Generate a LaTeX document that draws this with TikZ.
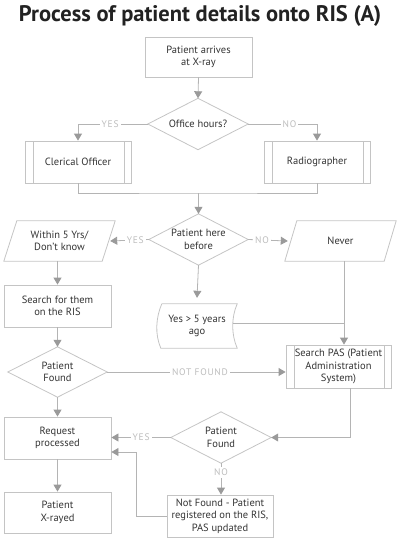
\documentclass[tikz,border=0pt]{standalone}
\usepackage{fontspec}
\setmainfont{PT Sans}
\usetikzlibrary{arrows.meta,calc}
\definecolor{bdc}{HTML}{C4C4C4}
\definecolor{lnc}{HTML}{B4B4B4}
\definecolor{tipc}{HTML}{9A9A9A}
\definecolor{txc}{HTML}{333333}
\definecolor{lbc}{HTML}{BDBDBD}
\definecolor{ttc}{HTML}{222222}
\begin{document}
\begin{tikzpicture}[x=1pt,y=-1pt,
  txt/.style={align=center, text=txc, font=\fontsize{10.5}{12.5}\selectfont, inner sep=0pt},
  box/.style={txt, draw=bdc, line width=0.8pt},
  proc/.style={box, path picture={
      \draw[bdc, line width=0.8pt] ([xshift=8pt]path picture bounding box.north west) -- ([xshift=8pt]path picture bounding box.south west);
      \draw[bdc, line width=0.8pt] ([xshift=-7pt]path picture bounding box.north east) -- ([xshift=-7pt]path picture bounding box.south east);}},
  shp/.style={txt},
  bd/.style={draw=bdc, line width=0.8pt},
  ln/.style={draw=lnc, line width=0.8pt},
  arr/.style={ln, -{Triangle[width=8pt,length=7pt,fill=tipc,color=tipc]}},
  lab/.style={font=\fontsize{9.5}{11}\selectfont\addfontfeature{LetterSpace=8}, text=lbc, fill=white, inner sep=2pt}
]
\useasboundingbox (0,0) rectangle (400,539);
\node[font=\fontsize{22.5}{26}\selectfont\bfseries, text=ttc] (title) at (200,16) {Process of patient details onto RIS (A)};

\node[box, minimum width=107, minimum height=40] (arrive) at (198.5,57) {Patient arrives\\at X-ray};
\node[shp, minimum width=100, minimum height=51] (office) at (198,124) {Office hours?};
\draw[bd] (office.north) -- (office.east) -- (office.south) -- (office.west) -- cycle;
\node[proc, minimum width=106, minimum height=42] (clerk) at (78,162) {Clerical Officer};
\node[proc, minimum width=106, minimum height=42] (radio) at (317,162) {Radiographer};
\node[shp, minimum width=99, minimum height=51] (here) at (198.5,239.5) {Patient here\\before};
\draw[bd] (here.north) -- (here.east) -- (here.south) -- (here.west) -- cycle;
\node[shp, minimum width=111, minimum height=40] (within) at (59.5,241) {Within 5 Yrs/\\Don't know};
\draw[bd] ($(within.north west)+(13,0)$) -- (within.north east) -- ($(within.south east)+(-13,0)$) -- (within.south west) -- cycle;
\node[shp, minimum width=111, minimum height=40] (never) at (340.5,241) {Never};
\draw[bd] ($(never.north west)+(12,0)$) -- (never.north east) -- ($(never.south east)+(-12,0)$) -- (never.south west) -- cycle;
\node[box, minimum width=107, minimum height=42] (ris) at (57.5,306) {Search for them\\on the RIS};
\node[shp, minimum width=80, minimum height=44] (yes5) at (197,326) {Yes > 5 years\\ago};
\draw[bd] ($(yes5.north west)+(5,0)$) -- (yes5.north east) .. controls +(-6,14) and +(-6,-14) .. (yes5.south east) -- ($(yes5.south west)+(4,0)$) .. controls +(-6,-14) and +(-6,14) .. ($(yes5.north west)+(5,0)$);
\node[proc, minimum width=105, minimum height=43] (pas) at (338.5,366.5) {Search PAS (Patient\\Administration\\System)};
\node[shp, minimum width=99, minimum height=50] (pf1) at (57.5,372) {Patient\\Found};
\draw[bd] (pf1.north) -- (pf1.east) -- (pf1.south) -- (pf1.west) -- cycle;
\node[box, minimum width=107, minimum height=42] (req) at (57.5,438) {Request\\processed};
\node[shp, minimum width=100, minimum height=51] (pf2) at (221,437.5) {Patient\\Found};
\draw[bd] (pf2.north) -- (pf2.east) -- (pf2.south) -- (pf2.west) -- cycle;
\node[box, minimum width=107, minimum height=41] (xray) at (57.5,512.5) {Patient\\X-rayed};
\node[box, minimum width=106, minimum height=42] (nf) at (220,516) {Not Found - Patient\\registered on the RIS,\\PAS updated};

% connectors
\draw[arr] (arrive.south) -- (office.north);
\draw[arr] (office.west) -| node[lab, pos=0.27]{YES} (clerk.north);
\draw[arr] (office.east) -| node[lab, pos=0.3]{NO} (radio.north);
\coordinate (join) at (198.5,193);
\draw[ln] (clerk.south) |- (join) -| (radio.south);
\draw[arr] (join) -- (here.north);
\draw[arr] (here.west) -- node[lab, pos=0.35]{YES} ([xshift=-5pt]within.east);
\draw[arr] (here.east) -- node[lab, pos=0.35]{NO} ([xshift=3pt]never.west);
\draw[arr] (within.south -| ris.north) -- (ris.north);
\draw[arr] (here.south) -- ([yshift=6pt]yes5.north);
\coordinate (nvx) at ([xshift=3.5pt]never.south);
\draw[arr] (nvx) -- (nvx |- pas.north);
\coordinate (y5r) at ($(yes5.east)+(-4,-3)$);
\draw[ln] (y5r) -- (y5r -| nvx);
\draw[arr] (ris.south) -- (pf1.north);
\draw[arr] (pf1.east) -- node[lab, pos=0.52]{NOT FOUND} (pf1.east -| pas.west);
\draw[arr] (pf1.south) -- (req.north);
\draw[arr] (req.south) -- (xray.north);
\draw[arr] ([xshift=11.5pt]pas.south) |- (pf2.east);
\draw[arr] (pf2.west) -- node[lab]{YES} (pf2.west -| req.east);
\draw[arr] (pf2.south) -- node[lab, pos=0.3]{NO} (pf2.south |- nf.north);
\draw[arr] (nf.west) -- ++(-30,0) |- ($(req.east)+(0,14)$);
\end{tikzpicture}
\end{document}
